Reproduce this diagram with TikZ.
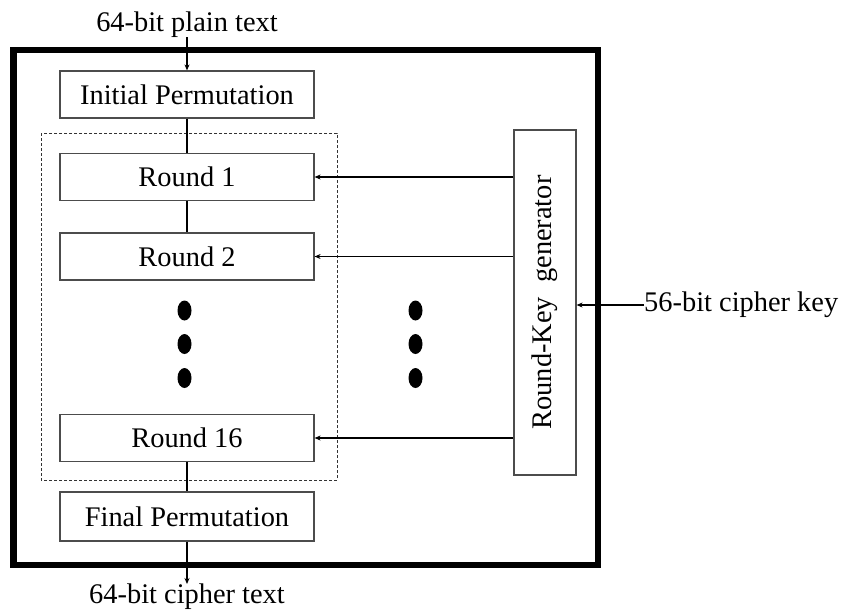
\documentclass[tikz,border=0pt]{standalone}
\usepackage{fontspec}
\setmainfont{Liberation Serif}
\usetikzlibrary{arrows.meta}
\tikzset{
  blk/.style={draw=black!70, line width=1.2pt, minimum width=254pt, minimum height=47pt, inner sep=0pt, font=\fontsize{28.4pt}{30pt}\selectfont},
  lbl/.style={inner sep=0pt, font=\fontsize{28.4pt}{30pt}\selectfont},
  conn/.style={line width=1.8pt, black},
  arr/.style={conn, -{Stealth[length=6pt,width=5pt]}}
}
\begin{document}
\begin{tikzpicture}[x=1pt,y=-1pt]
\useasboundingbox (0,0) rectangle (845,611);
% outer box
\draw[line width=6.5pt] (13.5,50) rectangle (598,565);
% dashed box
\draw[line width=0.9pt, black!80, dash pattern=on 3pt off 2pt] (41,133) rectangle (337,480);
% nodes
\node[lbl, anchor=base] (pin) at (187,31) {64-bit plain text};
\node[blk] (ip) at (187,94.5) {Initial Permutation};
\node[blk] (r1) at (187,177) {Round 1};
\node[blk] (r2) at (187,256.5) {Round 2};
\node[blk] (r16) at (187,438) {Round 16};
\node[blk, minimum height=49pt] (fp) at (187,516.5) {Final Permutation};
\node[lbl, anchor=north] (cout) at (187,584) {64-bit cipher text};
\node[blk, minimum width=62pt, minimum height=345pt] (rk) at (545,302.5) {};
\node[lbl, rotate=90] (rkt) at (rk.center) {Round-Key~ generator};
\node[lbl, anchor=west] (key) at (644,305) {56-bit cipher key};
% dots
\fill (184.5,310.5) ellipse [x radius=7, y radius=10];
\fill (184.5,344) ellipse [x radius=7, y radius=10];
\fill (184.5,378) ellipse [x radius=7, y radius=10];
\fill (415.5,310.5) ellipse [x radius=7, y radius=10];
\fill (415.5,344) ellipse [x radius=7, y radius=10];
\fill (415.5,378) ellipse [x radius=7, y radius=10];
% connectors
\draw[arr] (pin.south) -- (ip.north);
\draw[conn] (ip.south) -- (r1.north);
\draw[conn] (r1.south) -- (r2.north);
\draw[conn] (r16.south) -- (fp.north);
\draw[arr] (fp.south) -- (cout.north);
\draw[arr] (r1 -| rk.west) -- (r1.east);
\draw[arr] (r2 -| rk.west) -- (r2.east);
\draw[arr] (r16 -| rk.west) -- (r16.east);
\draw[arr] (key.west) -- (key -| rk.east);
\end{tikzpicture}
\end{document}
